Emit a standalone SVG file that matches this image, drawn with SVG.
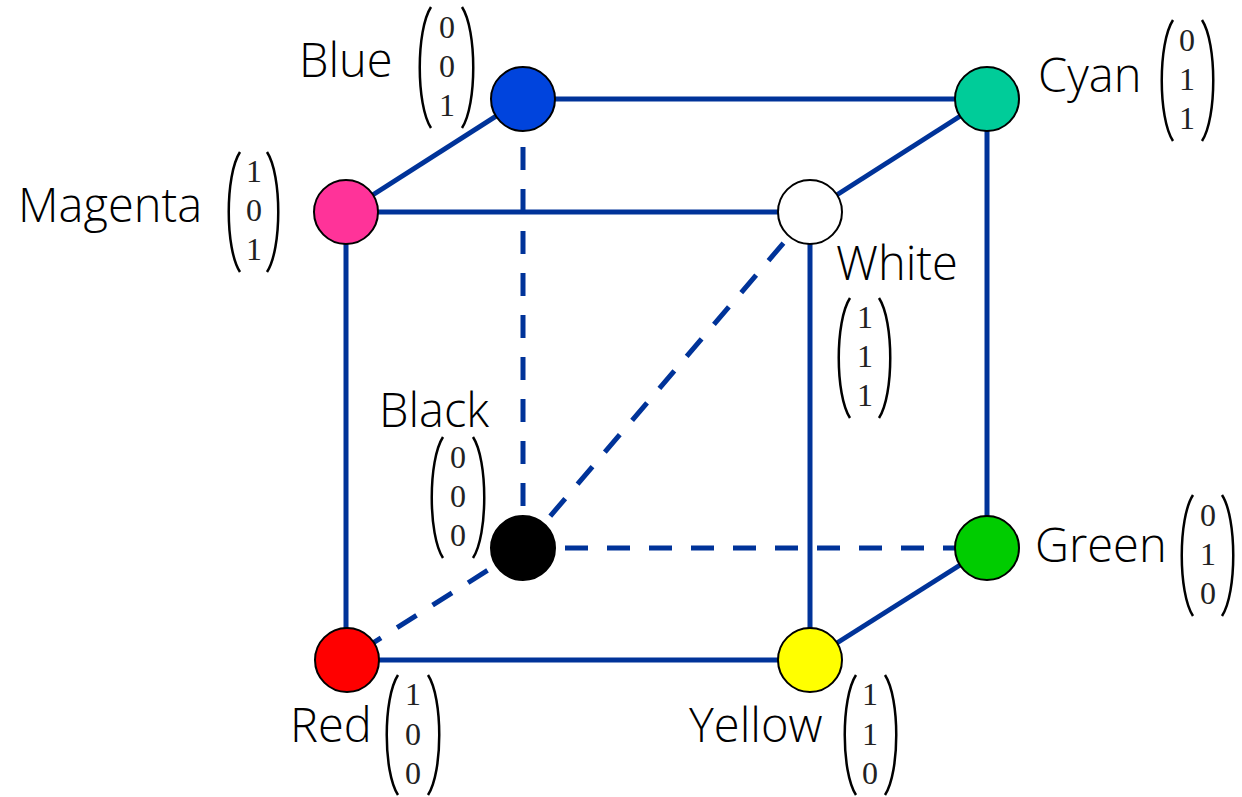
<svg xmlns="http://www.w3.org/2000/svg" width="1242" height="797" viewBox="0 0 1242 797">
<style>
.e{stroke:#003399;stroke-width:5;fill:none}
.d{stroke:#003399;stroke-width:5;fill:none;stroke-dasharray:23 19}
.n{stroke:#000;stroke-width:2}
.lbl{font-family:"Open Sans","Liberation Sans",sans-serif;font-weight:300;font-size:47px;fill:#000}
.dg{font-family:"Liberation Serif","DejaVu Serif",serif;font-size:32px;fill:#222;text-anchor:middle}
.p{stroke:#000;stroke-width:2.5;fill:none}
</style>
<rect width="1242" height="797" fill="#fff"/>
<g id="connectors">
<line class="e" x1="523" y1="99" x2="987" y2="99"/>
<line class="e" x1="523" y1="99" x2="346" y2="212"/>
<line class="e" x1="346" y1="212" x2="810" y2="212"/>
<line class="e" x1="810" y1="212" x2="987" y2="99"/>
<line class="e" x1="987" y1="99" x2="987" y2="548"/>
<line class="e" x1="346" y1="212" x2="346" y2="660"/>
<line class="e" x1="810" y1="212" x2="810" y2="660"/>
<line class="e" x1="346" y1="660" x2="810" y2="660"/>
<line class="e" x1="810" y1="660" x2="987" y2="548"/>
<line class="d" x1="523" y1="548" x2="523" y2="99"/>
<line class="d" x1="523" y1="548" x2="987" y2="548"/>
<line class="d" x1="523" y1="548" x2="346" y2="660"/>
<line class="d" x1="523" y1="548" x2="810" y2="212"/>
</g>
<g id="blue">
<circle class="n" cx="523" cy="99" r="32" fill="#0044dd"/>
<text class="lbl" x="299" y="77">Blue</text>
<path class="p" d="M431,7 C416,30 416,105 431,128 M462,7 C477,30 477,105 462,128"/>
<text class="dg" x="447" y="38">0</text><text class="dg" x="447" y="77">0</text><text class="dg" x="447" y="116">1</text>
</g>
<g id="cyan">
<circle class="n" cx="987" cy="99" r="32" fill="#00cc99"/>
<text class="lbl" x="1038" y="92">Cyan</text>
<path class="p" d="M1173,20 C1158,43 1158,118 1173,141 M1202,20 C1217,43 1217,118 1202,141"/>
<text class="dg" x="1187" y="51">0</text><text class="dg" x="1187" y="90">1</text><text class="dg" x="1187" y="129">1</text>
</g>
<g id="magenta">
<circle class="n" cx="346" cy="212" r="32" fill="#ff3399"/>
<text class="lbl" x="18" y="222">Magenta</text>
<path class="p" d="M240,152 C225,175 225,249 240,272 M267,152 C282,175 282,249 267,272"/>
<text class="dg" x="254" y="182">1</text><text class="dg" x="254" y="221">0</text><text class="dg" x="254" y="260">1</text>
</g>
<g id="white">
<circle class="n" cx="810" cy="212" r="32" fill="#ffffff"/>
<text class="lbl" x="836" y="280">White</text>
<path class="p" d="M850,298 C835,321 835,395 850,418 M879,298 C894,321 894,395 879,418"/>
<text class="dg" x="865" y="328">1</text><text class="dg" x="865" y="367">1</text><text class="dg" x="865" y="406">1</text>
</g>
<g id="black">
<circle class="n" cx="523" cy="548" r="32" fill="#000000"/>
<text class="lbl" x="379" y="427">Black</text>
<path class="p" d="M443,437 C428,460 428,535 443,558 M473,437 C488,460 488,535 473,558"/>
<text class="dg" x="458" y="468">0</text><text class="dg" x="458" y="507">0</text><text class="dg" x="458" y="546">0</text>
</g>
<g id="green">
<circle class="n" cx="987" cy="548" r="32" fill="#00cc00"/>
<text class="lbl" x="1035" y="562">Green</text>
<path class="p" d="M1193,495 C1178,518 1178,593 1193,616 M1222,495 C1237,518 1237,593 1222,616"/>
<text class="dg" x="1208" y="526">0</text><text class="dg" x="1208" y="565">1</text><text class="dg" x="1208" y="604">0</text>
</g>
<g id="red">
<circle class="n" cx="347" cy="660" r="32" fill="#ff0000"/>
<text class="lbl" x="290" y="742">Red</text>
<path class="p" d="M398,675 C383,698 383,772 398,795 M428,675 C443,698 443,772 428,795"/>
<text class="dg" x="413" y="705">1</text><text class="dg" x="413" y="745">0</text><text class="dg" x="413" y="784">0</text>
</g>
<g id="yellow">
<circle class="n" cx="810" cy="660" r="32" fill="#ffff00"/>
<text class="lbl" x="689" y="742">Yellow</text>
<path class="p" d="M856,675 C841,698 841,772 856,795 M885,675 C900,698 900,772 885,795"/>
<text class="dg" x="870" y="705">1</text><text class="dg" x="870" y="745">1</text><text class="dg" x="870" y="784">0</text>
</g>
</svg>
